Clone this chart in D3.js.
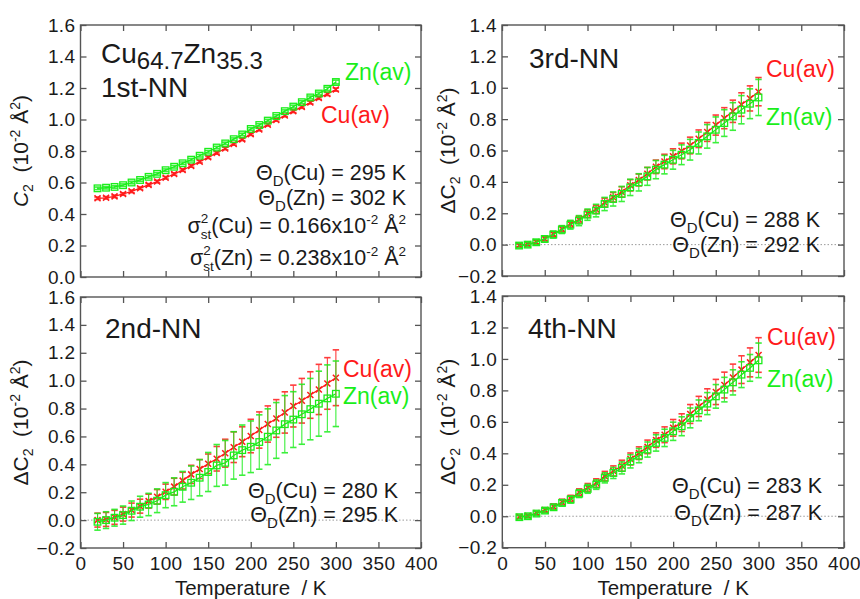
<!DOCTYPE html>
<html>
<head>
<meta charset="utf-8">
<script src="https://cdn.jsdelivr.net/npm/d3@7/dist/d3.min.js"></script>
<style>
  html, body { margin: 0; padding: 0; background: #fff; }
  svg { display: block; font-family: "Liberation Sans", Arial, sans-serif; }
</style>
</head>
<body>
<svg id="chart" width="860" height="599"></svg>
<script>
// Temperatures (K) shared by every panel
const temps = [20, 30, 40, 50, 60, 70, 80, 90, 100, 110, 120, 130, 140, 150, 160,
               170, 180, 190, 200, 210, 220, 230, 240, 250, 260, 270, 280, 290, 300];

// 1st-NN: C2 (10^-2 Å^2)
const nn1Cu = [0.500, 0.503, 0.512, 0.527, 0.544, 0.564, 0.585, 0.606, 0.630, 0.654,
               0.679, 0.705, 0.732, 0.760, 0.788, 0.816, 0.845, 0.874, 0.907, 0.936,
               0.967, 0.997, 1.025, 1.053, 1.080, 1.108, 1.137, 1.162, 1.190];
const nn1CuErr = [0.008, 0.008, 0.008, 0.008, 0.008, 0.008, 0.008, 0.008, 0.008, 0.008,
                  0.008, 0.008, 0.008, 0.008, 0.008, 0.008, 0.008, 0.008, 0.008, 0.008,
                  0.008, 0.008, 0.008, 0.009, 0.009, 0.009, 0.009, 0.010, 0.010];
const nn1Zn = [0.563, 0.567, 0.572, 0.583, 0.600, 0.616, 0.636, 0.655, 0.678, 0.700,
               0.722, 0.745, 0.770, 0.795, 0.822, 0.848, 0.875, 0.905, 0.940, 0.965,
               0.993, 1.022, 1.053, 1.082, 1.110, 1.140, 1.165, 1.195, 1.238];
const nn1ZnErr = [0.008, 0.008, 0.008, 0.008, 0.008, 0.008, 0.008, 0.008, 0.008, 0.008,
                  0.008, 0.008, 0.008, 0.008, 0.008, 0.008, 0.008, 0.008, 0.008, 0.008,
                  0.008, 0.008, 0.008, 0.009, 0.009, 0.009, 0.009, 0.010, 0.012];

// 2nd-NN: ΔC2
const nn2Cu = [0.000, 0.005, 0.020, 0.043, 0.072, 0.100, 0.136, 0.167, 0.203, 0.240,
               0.283, 0.328, 0.366, 0.404, 0.440, 0.480, 0.523, 0.562, 0.603, 0.646,
               0.689, 0.729, 0.772, 0.818, 0.856, 0.897, 0.937, 0.980, 1.021];
const nn2CuErr = [0.050, 0.050, 0.050, 0.050, 0.050, 0.050, 0.050, 0.052, 0.055, 0.060,
                  0.060, 0.065, 0.068, 0.070, 0.088, 0.100, 0.110, 0.107, 0.120, 0.130,
                  0.130, 0.135, 0.148, 0.150, 0.160, 0.167, 0.180, 0.185, 0.200];
const nn2Zn = [-0.012, 0.000, 0.017, 0.036, 0.067, 0.096, 0.112, 0.139, 0.179, 0.203,
               0.239, 0.268, 0.304, 0.345, 0.392, 0.411, 0.464, 0.502, 0.526, 0.560,
               0.598, 0.643, 0.688, 0.721, 0.759, 0.796, 0.835, 0.873, 0.906];
const nn2ZnErr = [0.060, 0.060, 0.060, 0.065, 0.070, 0.075, 0.080, 0.085, 0.090, 0.100,
                  0.110, 0.120, 0.130, 0.140, 0.150, 0.160, 0.170, 0.180, 0.185, 0.195,
                  0.200, 0.200, 0.205, 0.200, 0.215, 0.220, 0.233, 0.240, 0.235];

// 3rd-NN: ΔC2
const nn3Cu = [-0.004, 0.002, 0.017, 0.038, 0.067, 0.100, 0.132, 0.160, 0.198, 0.225,
               0.268, 0.302, 0.336, 0.378, 0.412, 0.452, 0.496, 0.530, 0.563, 0.597,
               0.632, 0.675, 0.718, 0.762, 0.806, 0.850, 0.893, 0.932, 0.975];
const nn3CuErr = [0.010, 0.010, 0.012, 0.014, 0.016, 0.018, 0.020, 0.022, 0.024, 0.026,
                  0.028, 0.030, 0.033, 0.036, 0.038, 0.040, 0.043, 0.046, 0.048, 0.050,
                  0.053, 0.056, 0.060, 0.064, 0.067, 0.071, 0.075, 0.080, 0.090];
const nn3Zn = [-0.006, 0.000, 0.015, 0.036, 0.064, 0.096, 0.127, 0.153, 0.191, 0.217,
               0.259, 0.291, 0.323, 0.365, 0.397, 0.435, 0.478, 0.510, 0.541, 0.573,
               0.605, 0.648, 0.690, 0.732, 0.775, 0.817, 0.860, 0.898, 0.938];
const nn3ZnErr = [0.015, 0.015, 0.016, 0.020, 0.022, 0.025, 0.028, 0.032, 0.036, 0.040,
                  0.042, 0.045, 0.048, 0.052, 0.055, 0.057, 0.058, 0.059, 0.060, 0.063,
                  0.066, 0.070, 0.075, 0.082, 0.085, 0.088, 0.090, 0.095, 0.115];

// 4th-NN: ΔC2
const nn4Cu = [-0.003, 0.003, 0.020, 0.040, 0.062, 0.090, 0.113, 0.152, 0.183, 0.211,
               0.255, 0.288, 0.321, 0.364, 0.401, 0.441, 0.484, 0.518, 0.562, 0.595,
               0.650, 0.698, 0.742, 0.790, 0.834, 0.882, 0.932, 0.978, 1.025];
const nn4CuErr = [0.010, 0.010, 0.011, 0.014, 0.016, 0.018, 0.020, 0.022, 0.025, 0.027,
                  0.030, 0.032, 0.035, 0.038, 0.040, 0.043, 0.046, 0.050, 0.053, 0.056,
                  0.060, 0.064, 0.068, 0.080, 0.082, 0.085, 0.088, 0.092, 0.110];
const nn4Zn = [-0.006, 0.000, 0.017, 0.036, 0.057, 0.085, 0.106, 0.144, 0.174, 0.201,
               0.244, 0.275, 0.307, 0.349, 0.385, 0.424, 0.466, 0.498, 0.540, 0.572,
               0.625, 0.673, 0.716, 0.762, 0.805, 0.851, 0.900, 0.943, 0.991];
const nn4ZnErr = [0.012, 0.012, 0.013, 0.015, 0.017, 0.020, 0.022, 0.025, 0.028, 0.030,
                  0.032, 0.035, 0.038, 0.042, 0.045, 0.048, 0.052, 0.055, 0.058, 0.060,
                  0.063, 0.066, 0.070, 0.075, 0.078, 0.080, 0.082, 0.085, 0.110];

// Tick values
const xTicks = [0, 50, 100, 150, 200, 250, 300, 350, 400];
const yTicks1 = [0.0, 0.2, 0.4, 0.6, 0.8, 1.0, 1.2, 1.4, 1.6];
const yTicks2 = [-0.2, 0.0, 0.2, 0.4, 0.6, 0.8, 1.0, 1.2, 1.4, 1.6];
const yTicks34 = [-0.2, 0.0, 0.2, 0.4, 0.6, 0.8, 1.0, 1.2, 1.4];

const RED = "#ff1a1a";
const GREEN = "#1aee1a";
const INK = "#1a1a1a";
const FONT = "'Liberation Sans', Arial, sans-serif";

const svg = d3.select("#chart");

const panels = [
  { left: 80.5, right: 421, top: 25, bottom: 277, yDomain: [0, 1.6], yTicks: yTicks1,
    cu: nn1Cu, cuErr: nn1CuErr, zn: nn1Zn, znErr: nn1ZnErr, zeroLine: false,
    xLabels: false, yTitle: "C2", yTitleX: 28 },
  { left: 80.5, right: 421, top: 297, bottom: 548, yDomain: [-0.2, 1.6], yTicks: yTicks2,
    cu: nn2Cu, cuErr: nn2CuErr, zn: nn2Zn, znErr: nn2ZnErr, zeroLine: true,
    xLabels: true, yTitle: "dC2", yTitleX: 28 },
  { left: 502, right: 844, top: 25, bottom: 276, yDomain: [-0.2, 1.4], yTicks: yTicks34,
    cu: nn3Cu, cuErr: nn3CuErr, zn: nn3Zn, znErr: nn3ZnErr, zeroLine: true,
    xLabels: false, yTitle: "dC2", yTitleX: 455 },
  { left: 502.3, right: 844, top: 296, bottom: 547.7, yDomain: [-0.2, 1.4], yTicks: yTicks34,
    cu: nn4Cu, cuErr: nn4CuErr, zn: nn4Zn, znErr: nn4ZnErr, zeroLine: true,
    xLabels: true, yTitle: "dC2", yTitleX: 455 }
];

panels.forEach(p => {
  const x = d3.scaleLinear().domain([0, 400]).range([p.left, p.right]);
  const y = d3.scaleLinear().domain(p.yDomain).range([p.bottom, p.top]);
  const g = svg.append("g");

  // zero reference line
  if (p.zeroLine) {
    g.append("line")
      .attr("x1", p.left).attr("x2", p.right)
      .attr("y1", y(0)).attr("y2", y(0))
      .attr("stroke", "#9a9a9a").attr("stroke-width", 1)
      .attr("stroke-dasharray", "1.5,2");
  }

  // axes with inward ticks on all four sides
  const tickLen = 6;
  const axL = d3.axisLeft(y).tickValues(p.yTicks).tickSize(-tickLen).tickPadding(5)
    .tickFormat(d3.format(".1f"));
  const axR = d3.axisRight(y).tickValues(p.yTicks).tickSize(-tickLen).tickFormat("");
  const axB = d3.axisBottom(x).tickValues(xTicks).tickSize(-tickLen).tickPadding(9)
    .tickFormat(p.xLabels ? d3.format("d") : "");
  const axT = d3.axisTop(x).tickValues(xTicks).tickSize(-tickLen).tickFormat("");

  const styleAxis = sel => {
    sel.select(".domain").remove();
    sel.selectAll(".tick line").attr("stroke", "#555").attr("stroke-width", 1.3);
    sel.selectAll("text").attr("fill", INK).style("font-family", FONT)
      .style("font-size", "19px").style("letter-spacing", "0.4px");
  };
  g.append("g").attr("transform", `translate(${p.left},0)`).call(axL).call(styleAxis);
  g.append("g").attr("transform", `translate(${p.right},0)`).call(axR).call(styleAxis);
  g.append("g").attr("transform", `translate(0,${p.bottom})`).call(axB).call(styleAxis);
  g.append("g").attr("transform", `translate(0,${p.top})`).call(axT).call(styleAxis);

  g.append("rect")
    .attr("x", p.left).attr("y", p.top)
    .attr("width", p.right - p.left).attr("height", p.bottom - p.top)
    .attr("fill", "none").attr("stroke", "#555").attr("stroke-width", 1.4);

  // y title
  const cy = (p.top + p.bottom) / 2;
  const yt = g.append("text")
    .attr("transform", `translate(${p.yTitleX},${cy}) rotate(-90)`)
    .attr("text-anchor", "middle")
    .style("font-family", FONT).style("font-size", "21px").attr("fill", INK);
  if (p.yTitle === "dC2") yt.append("tspan").text("\u0394C");
  else yt.append("tspan").text("C").style("font-style", "italic");
  yt.append("tspan").text("2").style("font-size", "14px").attr("dy", 5);
  yt.append("tspan").text("  (10").attr("dy", -5).attr("xml:space", "preserve");
  yt.append("tspan").text("-2").style("font-size", "14px").attr("dy", -8);
  yt.append("tspan").text(" \u00c5").attr("dy", 8);
  yt.append("tspan").text("2").style("font-size", "14px").attr("dy", -8);
  yt.append("tspan").text(")").attr("dy", 8);

  // x title
  if (p.xLabels) {
    g.append("text")
      .attr("x", (p.left + p.right) / 2).attr("y", 595)
      .attr("text-anchor", "middle")
      .style("font-family", FONT).style("font-size", "20.5px").attr("fill", INK)
      .attr("xml:space", "preserve")
      .text("Temperature  / K");
  }

  // series
  const series = [
    { v: p.cu, e: p.cuErr, color: RED, kind: "cross" },
    { v: p.zn, e: p.znErr, color: GREEN, kind: "square" }
  ];
  series.forEach(s => {
    const pts = temps.map((t, i) => ({ t, v: s.v[i], e: s.e[i] }));
    // error bars
    const eg = g.append("g").attr("stroke", s.color).attr("stroke-width", 1.1)
      .attr("opacity", 0.85);
    pts.forEach(d => {
      const cx = x(d.t);
      eg.append("line").attr("x1", cx).attr("x2", cx)
        .attr("y1", y(d.v - d.e)).attr("y2", y(d.v + d.e));
      [d.v - d.e, d.v + d.e].forEach(vv => {
        eg.append("line").attr("x1", cx - 3.2).attr("x2", cx + 3.2)
          .attr("y1", y(vv)).attr("y2", y(vv)).attr("stroke-width", 1.6);
      });
    });
    // connecting line
    g.append("path").datum(pts)
      .attr("fill", "none").attr("stroke", s.color).attr("stroke-width", 1.3)
      .attr("d", d3.line().x(d => x(d.t)).y(d => y(d.v)));
    // markers
    const mg = g.append("g").attr("stroke", s.color).attr("fill", "none");
    pts.forEach(d => {
      const cx = x(d.t), cyv = y(d.v);
      if (s.kind === "cross") {
        const h = 3;
        mg.append("path").attr("stroke-width", 1.5)
          .attr("d", `M${cx - h},${cyv - h}L${cx + h},${cyv + h}M${cx - h},${cyv + h}L${cx + h},${cyv - h}`);
      } else {
        const h = 3.3;
        mg.append("rect").attr("stroke-width", 1.3)
          .attr("x", cx - h).attr("y", cyv - h).attr("width", 2 * h).attr("height", 2 * h);
      }
    });
  });
});

// annotation helpers
function plainText(x, y, txt, size, color, anchor) {
  return svg.append("text").attr("x", x).attr("y", y)
    .attr("text-anchor", anchor || "start")
    .style("font-family", FONT).style("font-size", size + "px")
    .attr("fill", color).text(txt);
}
function thetaText(x, y, el, val) {
  const t = svg.append("text").attr("x", x).attr("y", y).attr("text-anchor", "end")
    .style("font-family", FONT).style("font-size", "21.5px").attr("fill", INK);
  t.append("tspan").text("\u0398");
  t.append("tspan").text("D").style("font-size", "15px").attr("dy", 6);
  t.append("tspan").text(`(${el}) = ${val} K`).attr("dy", -6);
}
function sigmaText(x, y, el, val) {
  const t = svg.append("text").attr("x", x).attr("y", y).attr("text-anchor", "end")
    .style("font-family", FONT).style("font-size", "21.5px").attr("fill", INK);
  t.append("tspan").text("\u03c3");
  t.append("tspan").text("2").style("font-size", "13.5px").attr("dy", -10);
  t.append("tspan").text("st").style("font-size", "13.5px").attr("dx", -7.5).attr("dy", 16);
  t.append("tspan").text(`(${el}) = ${val}x10`).attr("dy", -6);
  t.append("tspan").text("-2").style("font-size", "13.5px").attr("dy", -9);
  t.append("tspan").text(" \u00c5").attr("dy", 9);
  t.append("tspan").text("2").style("font-size", "13.5px").attr("dy", -9);
}

// panel 1 labels
const comp = svg.append("text").attr("x", 101).attr("y", 63)
  .style("font-family", FONT).style("font-size", "28px").attr("fill", INK);
comp.append("tspan").text("Cu");
comp.append("tspan").text("64.7").style("font-size", "24px").attr("dy", 6);
comp.append("tspan").text("Zn").attr("dy", -6);
comp.append("tspan").text("35.3").style("font-size", "24px").attr("dy", 6);
plainText(101, 97, "1st-NN", 28, INK);
plainText(345, 80, "Zn(av)", 23, GREEN);
plainText(321, 123, "Cu(av)", 23, RED);
thetaText(406, 180, "Cu", "295");
thetaText(406, 205, "Zn", "302");
sigmaText(406, 233, "Cu", "0.166");
sigmaText(406, 265, "Zn", "0.238");

// panel 2 labels
plainText(105, 338, "2nd-NN", 28, INK);
plainText(343, 377, "Cu(av)", 23, RED);
plainText(343, 404, "Zn(av)", 23, GREEN);
thetaText(398, 498, "Cu", "280");
thetaText(398, 522, "Zn", "295");

// panel 3 labels
plainText(529, 68, "3rd-NN", 28, INK);
plainText(766, 77, "Cu(av)", 23, RED);
plainText(766, 125, "Zn(av)", 23, GREEN);
thetaText(820, 227, "Cu", "288");
thetaText(820, 252, "Zn", "292");

// panel 4 labels
plainText(528, 338, "4th-NN", 28, INK);
plainText(767, 345, "Cu(av)", 23, RED);
plainText(767, 387, "Zn(av)", 23, GREEN);
thetaText(822, 493, "Cu", "283");
thetaText(822, 520, "Zn", "287");
</script>
</body>
</html>
